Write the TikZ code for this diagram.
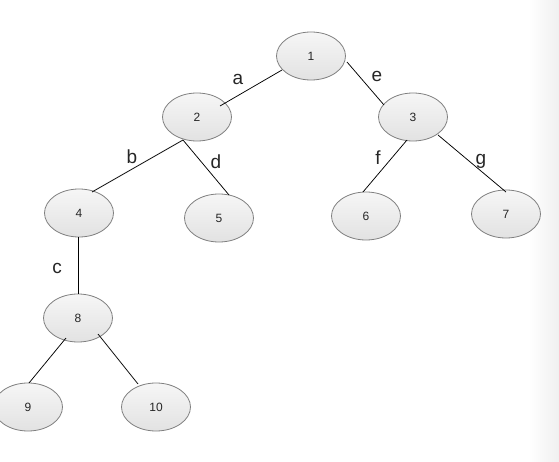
\documentclass[tikz,border=0pt]{standalone}
\usepackage{fontspec}
\setmainfont{Liberation Sans}
\usetikzlibrary{shapes.geometric,calc}
\definecolor{nodeborder}{RGB}{128,128,128}
\definecolor{nodetop}{RGB}{246,246,246}
\definecolor{nodebot}{RGB}{226,226,226}
\definecolor{edgeshade}{RGB}{240,240,240}
\tikzset{
  treenode/.style={ellipse, draw=nodeborder, line width=0.8pt,
    top color=nodetop, bottom color=nodebot,
    minimum width=69pt, minimum height=48pt, inner sep=0pt,
    font=\fontsize{12}{14}\selectfont, text=black!85},
  treeedge/.style={draw=black, line width=0.75pt},
  edgelabel/.style={font=\fontsize{19}{21}\selectfont, text=black!85, inner sep=0pt}
}
\begin{document}
\begin{tikzpicture}[x=1pt,y=-1pt]
\useasboundingbox (0,0) rectangle (559,462);
\fill[white] (0,0) rectangle (559,462);
\shade[left color=white, right color=edgeshade, draw=none] (528,0) rectangle (559,462);
% nodes
\node[treenode] (n1) at (311,56) {1};
\node[treenode] (n2) at (197,117) {2};
\node[treenode] (n3) at (413,117) {3};
\node[treenode] (n4) at (79,213) {4};
\node[treenode] (n5) at (219,218) {5};
\node[treenode] (n6) at (366,216) {6};
\node[treenode] (n7) at (506,214) {7};
\node[treenode] (n8) at (78,318) {8};
\node[treenode] (n9) at (28,407) {9};
\node[treenode] (n10) at (156,407) {10};
% edges
\draw[treeedge] ($(n1)+(-29,14)$) -- ($(n2)+(23,-11)$);
\draw[treeedge] ($(n1)+(36,6)$) -- ($(n3)+(-29,-12)$);
\draw[treeedge] ($(n2)+(-14,23)$) -- ($(n4)+(13,-21)$);
\draw[treeedge] ($(n2)+(-14,23)$) -- ($(n5)+(10,-23)$);
\draw[treeedge] ($(n3)+(-6,23)$) -- ($(n6)+(-3,-24)$);
\draw[treeedge] ($(n3)+(25,18)$) -- ($(n7)+(0,-22)$);
\draw[treeedge] (n8.north |- n4.south) -- (n8.north);
\draw[treeedge] ($(n8)+(-12,20)$) -- ($(n9)+(1,-24)$);
\draw[treeedge] ($(n8)+(20,16)$) -- ($(n10)+(-18,-23)$);
% edge labels
\node[edgelabel] (la) at (238,79) {a};
\node[edgelabel] (lb) at (132,157) {b};
\node[edgelabel] (lc) at (57,268) {c};
\node[edgelabel] (ld) at (216,162) {d};
\node[edgelabel] (le) at (377,76) {e};
\node[edgelabel] (lf) at (378,158) {f};
\node[edgelabel] (lg) at (481,161) {g};
\end{tikzpicture}
\end{document}
